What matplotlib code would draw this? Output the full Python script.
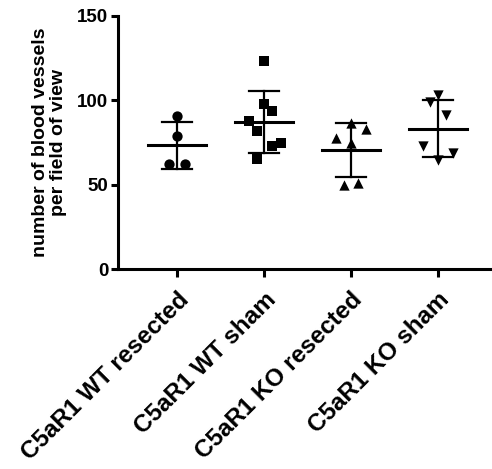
import numpy as np
import matplotlib.pyplot as plt

plt.rcParams['font.family'] = ['Liberation Sans', 'DejaVu Sans']
plt.rcParams['font.weight'] = 'bold'
plt.rcParams['axes.labelweight'] = 'bold'

groups = ["C5aR1 WT resected", "C5aR1 WT sham", "C5aR1 KO resected", "C5aR1 KO sham"]
markers = ["o", "s", "^", "v"]

wt_resected = [90.7, 78.8, 62.2, 62.2]
wt_sham = [123.5, 97.6, 93.6, 87.7, 81.8, 72.9, 74.5, 65.0]
ko_resected = [86.4, 82.9, 77.9, 74.5, 49.8, 50.8]
ko_sham = [103.1, 99.2, 91.3, 72.9, 68.6, 64.6]

# horizontal jitter as it appears in the picture
wt_resected_dx = [0.0, 0.0, -0.09, 0.09]
wt_sham_dx = [0.0, 0.0, 0.09, -0.17, -0.08, 0.09, 0.19, -0.08]
ko_resected_dx = [0.0, 0.17, -0.17, 0.0, -0.08, 0.08]
ko_sham_dx = [0.0, -0.09, 0.09, -0.17, 0.17, 0.0]

data = [wt_resected, wt_sham, ko_resected, ko_sham]
jitter = [wt_resected_dx, wt_sham_dx, ko_resected_dx, ko_sham_dx]

fig = plt.figure(figsize=(4.92, 4.69), dpi=100)
ax = fig.add_axes([0.2398, 0.4264, 0.758, 0.5395])

lw = 2.2
for i, (vals, dx, m) in enumerate(zip(data, jitter, markers)):
    x = i + np.array(dx)
    ax.scatter(x, vals, marker=m, s=55, color='black', zorder=3, linewidths=0)
    mean = np.mean(vals)
    sd = np.std(vals, ddof=1)
    ax.plot([i - 0.33, i + 0.33], [mean, mean], color='black', lw=lw, zorder=2)
    ax.plot([i, i], [mean - sd, mean + sd], color='black', lw=1.6, zorder=2)
    for y in (mean - sd, mean + sd):
        ax.plot([i - 0.17, i + 0.17], [y, y], color='black', lw=1.6, zorder=2)

ax.set_xlim(-0.68, 3.61)
ax.set_ylim(0, 150)
ax.set_yticks([0, 50, 100, 150])
ax.set_xticks(range(4))
ax.set_xticklabels(groups, rotation=45, ha='right', rotation_mode='anchor', fontsize=17.5)
ax.tick_params(axis='y', labelsize=13.5, width=lw, length=5, pad=2)
ax.tick_params(axis='x', width=lw, length=6, pad=8)
for s in ['top', 'right']:
    ax.spines[s].set_visible(False)
for s in ['left', 'bottom']:
    ax.spines[s].set_linewidth(lw)
ax.set_ylabel("number of blood vessels\nper field of view", fontsize=14, linespacing=1.1, labelpad=7)

fig.savefig("out.png", dpi=100)
